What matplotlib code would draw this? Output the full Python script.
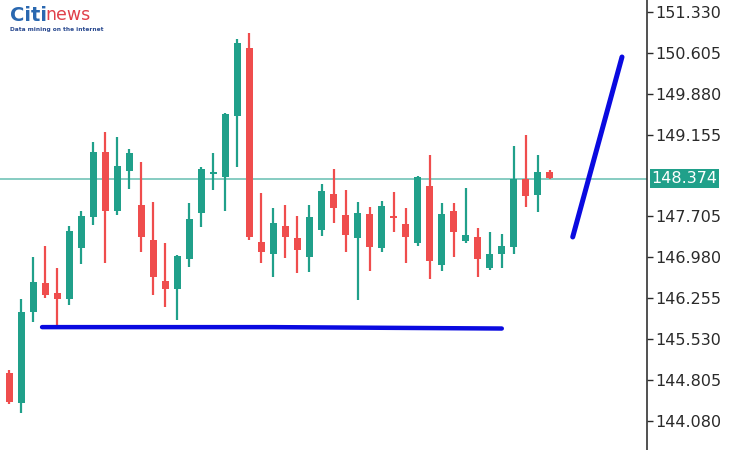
import numpy as np
import matplotlib
matplotlib.use("Agg")
import matplotlib.pyplot as plt

# OHLC (one entry per candle, left to right)
opens = [144.926, 144.394, 146.008, 146.523, 146.345, 146.239, 147.143, 147.693, 148.847, 147.800,
         148.510, 147.906, 147.285, 146.558, 146.416, 146.948, 147.764, 148.456, 148.403, 149.485,
         150.692, 147.250, 147.037, 147.534, 147.321, 146.984, 147.463, 148.101, 147.729, 147.321,
         147.747, 147.143, 147.693, 147.569, 147.232, 148.243, 146.842, 147.800, 147.268, 147.339,
         146.789, 147.037, 147.161, 148.368, 148.084, 148.492]
highs = [144.979, 146.239, 146.984, 147.179, 146.789, 147.534, 147.800, 149.024, 149.201, 149.113,
         148.900, 148.669, 147.960, 147.232, 147.019, 147.942, 148.580, 148.829, 149.538, 150.851,
         150.958, 148.119, 147.853, 147.906, 147.711, 147.906, 148.279, 148.545, 148.172, 147.960,
         147.871, 147.977, 148.137, 147.853, 148.421, 148.793, 147.942, 147.942, 148.208, 147.498,
         147.427, 147.392, 148.953, 149.148, 148.793, 148.527]
lows = [144.376, 144.216, 145.831, 146.257, 145.724, 146.132, 146.860, 147.552, 146.877, 147.729,
        148.190, 147.072, 146.310, 146.097, 145.866, 146.806, 147.516, 148.172, 147.800, 148.580,
        147.285, 146.877, 146.629, 146.966, 146.700, 146.718, 147.357, 147.587, 147.072, 146.221,
        146.736, 147.072, 147.427, 146.877, 147.179, 146.594, 146.736, 146.984, 147.232, 146.629,
        146.754, 146.789, 147.037, 147.871, 147.782, 148.368]
closes = [144.412, 146.008, 146.540, 146.310, 146.239, 147.445, 147.711, 148.847, 147.800, 148.598,
          148.829, 147.339, 146.629, 146.416, 147.002, 147.658, 148.545, 148.492, 149.521, 150.780,
          147.339, 147.072, 147.587, 147.339, 147.108, 147.693, 148.155, 147.853, 147.374, 147.764,
          147.161, 147.889, 147.676, 147.339, 148.403, 146.913, 147.747, 147.427, 147.374, 146.948,
          147.037, 147.179, 148.368, 148.066, 148.492, 148.385]

current_price = 148.374
tick_values = [151.330, 150.605, 149.880, 149.155, 147.705, 146.980, 146.255, 145.530, 144.805, 144.080]

# hand-drawn trend lines (candle index, price)
support_x = [2.75, 21.9, 41.0]
support_y = [145.740, 145.740, 145.715]
arrow_x = [46.9, 51.0]
arrow_y = [147.339, 150.532]

green = "#20a08a"
red = "#ef4d4d"

fig = plt.figure(figsize=(7.51, 4.5), dpi=100)
ax = fig.add_axes([0, 0, 647 / 751, 1])

idx = np.arange(len(opens))
o = np.array(opens)
c = np.array(closes)
up = c >= o
colors = np.where(up, green, red)

ax.vlines(idx, lows, highs, colors=colors, linewidth=1.6, zorder=2)
body_bottom = np.minimum(o, c)
body_h = np.maximum(np.abs(c - o), 0.04)
ax.bar(idx, body_h, bottom=body_bottom, width=0.58, color=colors, zorder=3)

ax.axhline(current_price, color="#72c4b8", linewidth=1.2, zorder=1)

ax.plot(support_x, support_y, color="#0a0ae0", linewidth=3.2, solid_capstyle="round", zorder=4)
ax.plot(arrow_x, arrow_y, color="#0a0ae0", linewidth=3.6, solid_capstyle="round", zorder=4)

ax.set_xlim(-0.75, 53.08)
ax.set_ylim(143.560, 151.543)

for s in ["top", "left", "bottom"]:
    ax.spines[s].set_visible(False)
ax.spines["right"].set_color("#333333")
ax.spines["right"].set_linewidth(1.2)
ax.set_xticks([])
ax.yaxis.tick_right()
ax.set_yticks(tick_values)
ax.set_yticklabels([f"{v:.3f}" for v in tick_values])
ax.tick_params(axis="y", direction="out", length=4, width=1, colors="#2a2a2a",
               labelsize=11.5, pad=2)

# current price label box
ax.text(1.007, current_price, f"{current_price:.3f}", transform=ax.get_yaxis_transform(),
        ha="left", va="center", fontsize=11.5, color="white", clip_on=False,
        bbox=dict(boxstyle="square,pad=0.12", facecolor="#20a08a", edgecolor="none"))

# logo
fig.text(0.013, 0.944, "Citi", fontsize=14, fontweight="bold", color="#2a68b0", va="bottom")
fig.text(0.060, 0.946, "news", fontsize=12.5, color="#e0404a", va="bottom")
fig.text(0.013, 0.940, "Data mining on the internet", fontsize=4.2, color="#2a4a90",
         fontweight="bold", va="top")

fig.savefig("out.png", dpi=100)
